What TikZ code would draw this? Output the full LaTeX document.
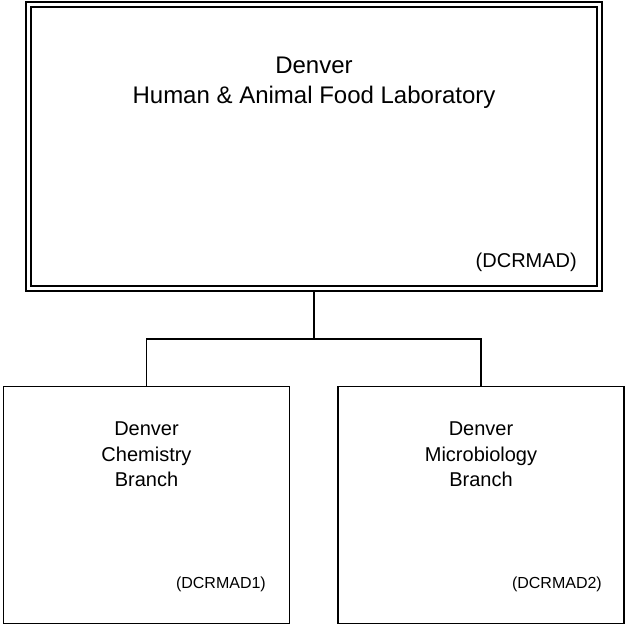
\documentclass[tikz,border=0pt]{standalone}
\usepackage{fontspec}
\setmainfont{Liberation Sans}
\usepackage{tikz}
\tikzset{
  labbox/.style={draw, line width=1.8pt, double, double distance=3pt,
    minimum width=571pt, minimum height=284pt, inner sep=0pt, outer sep=3.3pt},
  unitbox/.style={draw, line width=1.6pt, minimum width=286pt,
    minimum height=237pt, inner sep=0pt},
  boxtext/.style={anchor=north, align=center, inner sep=0pt},
  codetext/.style={anchor=base east, inner sep=0pt},
  link/.style={line width=1.6pt},
}
\begin{document}
\begin{tikzpicture}[x=1pt,y=-1pt]
  \useasboundingbox (0,0) rectangle (625,626);

  \node[labbox] (lab) at (314,146.5) {};
  \node[unitbox] (chem) at (146.5,505) {};
  \node[unitbox] (micro) at (481,505) {};

  \node[boxtext, font=\fontsize{24}{30}\selectfont] (labname) at (314,57)
    {Denver\\Human \& Animal Food Laboratory};
  \node[codetext, font=\fontsize{20}{24}\selectfont] (labcode) at (577,267) {(DCRMAD)};

  \node[boxtext, font=\fontsize{20}{25.5}\selectfont] (chemname) at (146.5,422)
    {Denver\\Chemistry\\Branch};
  \node[boxtext, font=\fontsize{20}{25.5}\selectfont] (microname) at (481,422)
    {Denver\\Microbiology\\Branch};
  \node[codetext, font=\fontsize{16}{19}\selectfont] (chemcode) at (266,588) {(DCRMAD1)};
  \node[codetext, font=\fontsize{16}{19}\selectfont] (microcode) at (602,588) {(DCRMAD2)};

  \coordinate (fork) at (314,339);
  \draw[link] (lab.south) -- (fork);
  \draw[link] (chem.north) |- (fork) -| (micro.north);
\end{tikzpicture}
\end{document}
